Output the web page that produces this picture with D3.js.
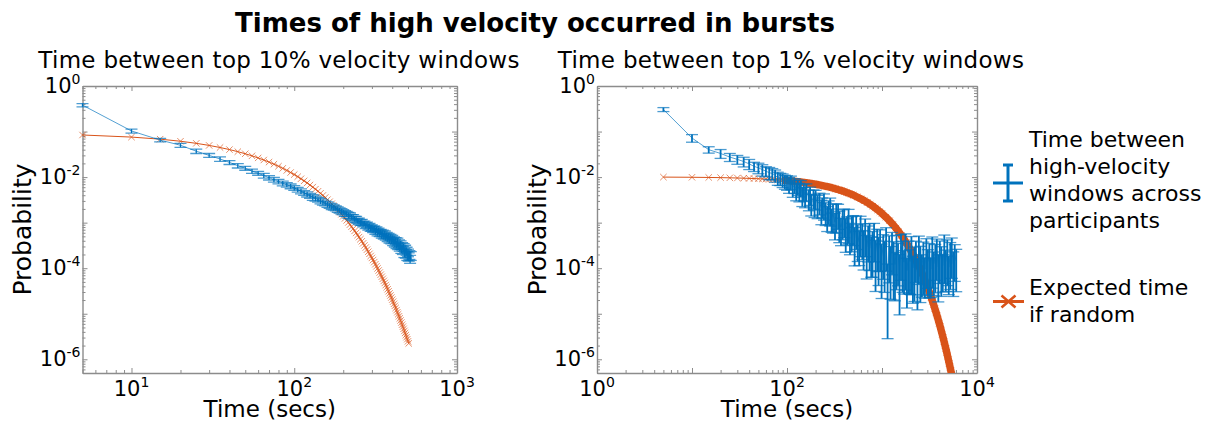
<!DOCTYPE html>
<html>
<head>
<meta charset="utf-8">
<script src="https://cdn.jsdelivr.net/npm/d3@7"></script>
<style>
  body { margin: 0; background: #fff; }
  svg { font-family: "DejaVu Sans", Verdana, sans-serif; }
</style>
</head>
<body>
<svg id="chart" width="1216" height="423"></svg>
<script>
// ---- data: top 10% panel ----
var leftTime = [5,10,15,20,25,30,35,40,45,50,55,60,65,70,75,80,85,90,95,100,
  105,110,115,120,125,130,135,140,145,150,155,160,165,170,175,180,185,190,195,200,
  205,210,215,220,225,230,235,240,245,250,255,260,265,270,275,280,285,290,295,300,
  305,310,315,320,325,330,335,340,345,350,355,360,365,370,375,380,385,390,395,400,
  405,410,415,420,425,430,435,440,445,450,455,460,465,470,475,480,485,490,495,500,
  505,510,515,520];
var leftObserved = [0.38,0.103,0.065,0.050,0.037,0.030,0.025,0.021,0.0178,0.0157,
  0.0135,0.0122,0.0108,0.0097,0.0088,0.0080,0.0073,0.0068,0.0063,0.0058,
  0.0053,0.0049,0.0045,0.0042,0.0039,0.0036,0.0034,0.0032,0.0030,0.0028,
  0.00266,0.00251,0.00237,0.00226,0.00216,0.00207,0.00195,0.00186,0.00178,0.00170,
  0.00160,0.00157,0.00146,0.00143,0.00133,0.00131,0.00121,0.00119,0.00110,0.00109,
  0.00101,0.00103,0.00094,0.00096,0.00087,0.00090,0.00081,0.00084,0.00076,0.00078,
  0.00071,0.00074,0.00066,0.00070,0.00062,0.00066,0.00059,0.00062,0.00055,0.00059,
  0.00051,0.00056,0.00049,0.00053,0.00046,0.00050,0.00043,0.00048,0.00041,0.00045,
  0.00038,0.00042,0.00036,0.00040,0.00033,0.00038,0.00031,0.00035,0.00029,0.00033,
  0.00026,0.00031,0.00025,0.00029,0.00022,0.00027,0.00021,0.00024,0.00019,0.00022,
  0.00018,0.00020,0.00016,0.00019];
var leftObservedErr = [0.08,0.10,0.09,0.10,0.11,0.10,0.11,0.10,0.11,0.10,0.11,0.10,0.12,0.11,0.12,0.11,0.12,0.11,0.12,0.12,
  0.12,0.13,0.12,0.13,0.12,0.14,0.13,0.12,0.14,0.13,0.12,0.14,0.13,0.14,0.13,0.12,0.14,0.13,0.14,0.13,
  0.14,0.13,0.15,0.14,0.13,0.15,0.14,0.15,0.13,0.15,0.14,0.15,0.14,0.13,0.15,0.14,0.15,0.14,0.15,0.15,
  0.15,0.14,0.16,0.15,0.17,0.15,0.16,0.14,0.17,0.16,0.15,0.17,0.16,0.15,0.17,0.16,0.17,0.15,0.17,0.16,
  0.18,0.16,0.19,0.17,0.18,0.20,0.17,0.19,0.18,0.21,0.19,0.18,0.20,0.19,0.22,0.18,0.21,0.20,0.22,0.19,
  0.21,0.22,0.20,0.22];
var leftExpected = [0.084,0.0756,0.06804,0.06124,0.05511,0.0496,0.04464,0.04018,0.03616,0.03254,
  0.02929,0.02636,0.02372,0.02135,0.01922,0.01729,0.01556,0.01401,0.01261,0.01135,
  0.01021,0.00919,0.00827,0.00745,0.0067,0.00603,0.00543,0.00489,0.0044,0.00396,
  0.00356,0.0032,0.00288,0.0026,0.00234,0.0021,0.00189,0.0017,0.00153,0.00138,
  0.00124,0.00112,0.00101,9.05e-4,8.15e-4,7.33e-4,6.6e-4,5.94e-4,5.35e-4,4.81e-4,
  4.33e-4,3.9e-4,3.51e-4,3.16e-4,2.84e-4,2.56e-4,2.3e-4,2.07e-4,1.86e-4,1.68e-4,
  1.51e-4,1.36e-4,1.22e-4,1.1e-4,9.9e-5,8.91e-5,8.02e-5,7.22e-5,6.5e-5,5.85e-5,
  5.26e-5,4.74e-5,4.26e-5,3.84e-5,3.45e-5,3.11e-5,2.8e-5,2.52e-5,2.27e-5,2.04e-5,
  1.84e-5,1.65e-5,1.49e-5,1.34e-5,1.2e-5,1.08e-5,9.76e-6,8.78e-6,7.9e-6,7.11e-6,
  6.4e-6,5.76e-6,5.19e-6,4.67e-6,4.2e-6,3.78e-6,3.4e-6,3.06e-6,2.76e-6,2.48e-6,
  2.23e-6];

// ---- data: top 1% panel ----
var rightTime = [5,10,15,20,25,30,35,40,45,50,55,60,65,70,75,80,85,90,95,
  100,105,110,115,120,125,130,135,140,145,150,155,160,170,175,180,190,195,200,210,
  220,230,235,245,255,265,275,285,295,305,320,330,345,355,370,385,400,415,430,445,
  460,480,495,515,535,555,575,595,620,640,665,690,715,740,770,795,825,855,890,920,
  955,990,1030,1065,1105,1145,1190,1230,1275,1325,1370,1420,1475,1530,1585,1645,1705,1765,1830,1900,
  1970,2040,2115,2195,2275,2360,2445,2535,2630,2725,2825,2930,3040,3150,3265,3385,3510,3640,3775,3915,
  4060,4210,4365,4525,4690,4865,5045,5230,5425,5625,5830,6045];
var rightObserved = [0.305,0.072,0.040,0.033,0.0275,0.0245,0.022,0.0195,0.0172,0.016,
  0.0146,0.0135,0.0125,0.012,0.011,0.0097,0.0093,0.0088,0.0082,
  7.9e-3,7.1e-3,7.9e-3,6.0e-3,6.8e-3,5.2e-3,6.3e-3,5.1e-3,6.0e-3,4.1e-3,
  5.0e-3,4.0e-3,5.0e-3,3.5e-3,4.2e-3,2.8e-3,3.6e-3,2.7e-3,3.5e-3,2.6e-3,
  2.95e-3,2.0e-3,2.37e-3,2.7e-3,1.8e-3,1.45e-3,1.95e-3,2.15e-3,1.3e-3,1.55e-3,
  1.02e-3,1.6e-3,1.62e-3,1.07e-3,7.8e-4,1.17e-3,1.23e-3,7.2e-4,8.3e-4,1.15e-3,
  5.8e-4,7.9e-4,8.7e-4,4.5e-4,8.3e-4,5.2e-4,3.8e-4,7.8e-4,5.5e-4,3.8e-4,
  6.9e-4,2.9e-4,4.9e-4,5.2e-4,2.75e-4,3.5e-4,5.5e-4,2.2e-4,4.0e-4,2.6e-4,
  3.9e-4,1.8e-4,3.0e-4,2.1e-4,4.3e-4,6.3e-5,2.8e-4,1.6e-4,3.4e-4,2.0e-4,
  1.2e-4,2.8e-4,1.95e-4,1.05e-4,3.0e-4,2.1e-4,1.35e-4,3.0e-4,8.9e-5,2.1e-4,
  1.4e-4,2.6e-4,1.0e-4,1.55e-4,2.2e-4,8.7e-5,2.75e-4,1.6e-4,1.1e-4,2.0e-4,
  9.5e-5,2.4e-4,1.4e-4,1.85e-4,9.5e-5,2.6e-4,1.26e-4,1.8e-4,2.45e-4,1.07e-4,
  2.2e-4,1.6e-4,1.15e-4,2.9e-4,1.4e-4,2.3e-4,1.05e-4,2.0e-4,2.6e-4,1.26e-4,
  1.9e-4,1.45e-4];
var rightObservedErr = [0.10,0.19,0.16,0.22,0.20,0.22,0.24,0.25,0.23,0.26,0.28,0.25,0.30,0.28,0.30,0.32,0.30,0.33,0.34,
  0.35,0.38,0.33,0.40,0.36,0.42,0.37,0.44,0.39,0.45,
  0.40,0.47,0.42,0.48,0.43,0.50,0.45,0.52,0.46,0.53,
  0.50,0.55,0.47,0.58,0.52,0.56,0.54,0.61,0.53,0.62,
  0.59,0.63,0.56,0.66,0.60,0.64,0.62,0.69,0.61,0.70,
  0.66,0.71,0.64,0.75,0.69,0.73,0.70,0.77,0.72,0.76,
  0.74,0.80,0.72,0.83,0.77,0.82,0.75,0.86,0.79,0.84,
  0.78,0.88,0.81,0.86,0.80,0.955,0.83,0.87,0.79,0.90,
  0.84,0.88,0.79,0.91,0.82,0.86,0.80,0.89,0.85,0.87,
  0.81,0.90,0.83,0.88,0.78,0.86,0.84,0.89,0.79,0.87,
  0.77,0.85,0.82,0.88,0.76,0.86,0.80,0.84,0.78,0.83,
  0.79,0.85,0.74,0.84,0.78,0.82,0.75,0.83,0.77,0.81,
  0.73,0.79];
var rightExpectedTime = [5,10,15,20,25,30,35,40,45,50,55,60,65,70,75,80,85,90,95,100,
  110,120,130,140,150,160,170,180,190,200,
  225,250,275,300,325,350,375,400,425,450,475,500,
  550,600,650,700,750,800,850,900,950,1000,
  1100,1200,1300,1400,1500,1600,1700,1800,1900,2000,2100,2200,2300,2400,2500,2600,2700,2800,2900,3000,
  3100,3200,3300,3400,3500,3600,3700,3800,3900,4000,4100,4200,4300,4400,4500,4600,4700,4800,4900,5000,
  5100,5200,5300,5400,5500,5600];
var rightExpected = [0.0100,0.00991,0.00982,0.00973,0.00964,0.00955,0.00946,0.00937,0.00929,0.00920,
  0.00912,0.00903,0.00895,0.00887,0.00879,0.00871,0.00863,0.00855,0.00847,0.00839,
  0.00824,0.00809,0.00794,0.00779,0.00765,0.00751,0.00737,0.00724,0.00710,0.00697,
  0.00666,0.00636,0.00607,0.00579,0.00553,0.00528,0.00504,0.00482,0.00460,0.00439,0.00420,0.00401,
  0.00365,0.00333,0.00304,0.00277,0.00252,0.00230,0.00210,0.00191,0.00174,0.00159,
  1.32e-3,1.10e-3,9.13e-4,7.59e-4,6.31e-4,5.25e-4,4.36e-4,3.62e-4,3.01e-4,2.50e-4,
  2.08e-4,1.73e-4,1.44e-4,1.20e-4,9.94e-5,8.26e-5,6.87e-5,5.71e-5,4.75e-5,3.95e-5,
  3.28e-5,2.73e-5,2.27e-5,1.88e-5,1.57e-5,1.30e-5,1.08e-5,8.99e-6,7.48e-6,6.22e-6,
  5.17e-6,4.30e-6,3.57e-6,2.97e-6,2.47e-6,2.05e-6,1.71e-6,1.42e-6,1.18e-6,9.79e-7,
  8.14e-7,6.77e-7,5.63e-7,4.68e-7,3.89e-7,3.23e-7];

// axis ranges and labelled ticks
var probRange = [5e-7, 1];
var probTicks = [1e-6, 1e-4, 1e-2, 1];
var leftTimeRange = [5, 1000];
var leftTimeTicks = [10, 100, 1000];
var rightTimeRange = [1, 10000];
var rightTimeTicks = [1, 100, 10000];

var legendObserved = ["Time between", "high-velocity", "windows across", "participants"];
var legendExpected = ["Expected time", "if random"];

var blue = "#0072BD";
var orange = "#D95319";
var axisColor = "#8c8c8c";

var svg = d3.select("#chart");

// log ticks: decades and the 2..9 in between
function logTicks(lo, hi, major) {
    var out = [];
    for (var e = Math.floor(Math.log10(lo)); e <= Math.ceil(Math.log10(hi)); e++) {
        for (var m = 1; m < 10; m++) {
            if ((m == 1) != major) continue;
            var v = m * Math.pow(10, e);
            if (v >= lo * 0.999 && v <= hi * 1.001) out.push(v);
        }
    }
    return out;
}

function addAxis(g, axisFn, scale, values, size, transform, withDomain) {
    var a = g.append("g")
        .attr("transform", transform)
        .call(axisFn(scale).tickValues(values).tickSize(size).tickSizeOuter(0).tickFormat(""));
    a.selectAll(".tick line").attr("stroke", axisColor).attr("stroke-width", 1);
    if (withDomain) {
        a.select(".domain").attr("stroke", axisColor).attr("stroke-width", 1.4);
    } else {
        a.select(".domain").remove();
    }
}

function powerText(sel, size, supSize, supDy) {
    sel.each(function(d) {
        var t = d3.select(this);
        t.append("tspan").attr("font-size", size).text("10");
        t.append("tspan").attr("font-size", supSize).attr("dy", supDy)
            .text(String(Math.round(Math.log10(d))));
    });
}

function drawPanel(p) {
    var x = d3.scaleLog().domain(p.xRange).range([p.left, p.right]);
    var y = d3.scaleLog().domain(probRange).range([p.bottom, p.top]);
    var g = svg.append("g");

    // box with inward ticks on all four sides
    var xMaj = logTicks(p.xRange[0], p.xRange[1], true), xMin = logTicks(p.xRange[0], p.xRange[1], false);
    var yMaj = logTicks(probRange[0], probRange[1], true), yMin = logTicks(probRange[0], probRange[1], false);
    addAxis(g, d3.axisBottom, x, xMaj, -5, "translate(0," + p.bottom + ")", true);
    addAxis(g, d3.axisBottom, x, xMin, -3, "translate(0," + p.bottom + ")", false);
    addAxis(g, d3.axisTop, x, xMaj, -5, "translate(0," + p.top + ")", true);
    addAxis(g, d3.axisTop, x, xMin, -3, "translate(0," + p.top + ")", false);
    addAxis(g, d3.axisLeft, y, yMaj, -5, "translate(" + p.left + ",0)", true);
    addAxis(g, d3.axisLeft, y, yMin, -3, "translate(" + p.left + ",0)", false);
    addAxis(g, d3.axisRight, y, yMaj, -5, "translate(" + p.right + ",0)", true);
    addAxis(g, d3.axisRight, y, yMin, -3, "translate(" + p.right + ",0)", false);

    // tick labels
    g.selectAll(null).data(p.xTicks).join("text")
        .attr("x", function(d) { return x(d); })
        .attr("y", p.bottom + 23)
        .attr("text-anchor", "middle")
        .attr("fill", "#000")
        .call(powerText, 21, 14, -9);
    g.selectAll(null).data(probTicks).join("text")
        .attr("x", p.left - 2)
        .attr("y", function(d) { return y(d) + 7; })
        .attr("text-anchor", "end")
        .attr("fill", "#000")
        .call(powerText, 21, 14, -9);

    // axis labels and panel title
    g.append("text")
        .attr("x", (p.left + p.right) / 2).attr("y", 417)
        .attr("text-anchor", "middle").attr("font-size", 23)
        .text("Time (secs)");
    g.append("text")
        .attr("transform", "translate(" + p.ylabelX + "," + ((p.top + p.bottom) / 2) + ") rotate(-90)")
        .attr("text-anchor", "middle").attr("font-size", 25)
        .text("Probability");
    g.append("text")
        .attr("x", p.titleX).attr("y", 68)
        .attr("text-anchor", "middle").attr("font-size", 23).attr("letter-spacing", 0.3)
        .text(p.title);

    // data area, clipped at the bottom like the original
    var clipId = "clip" + p.id;
    svg.append("clipPath").attr("id", clipId).append("rect")
        .attr("x", p.left - 20).attr("y", p.top - 20)
        .attr("width", p.right - p.left + 40).attr("height", p.bottom - p.top + 20);
    var data = g.append("g").attr("clip-path", "url(#" + clipId + ")");

    // expected (random) series
    var exp = p.expTime.map(function(t, i) { return {t: t, v: p.expVal[i]}; });
    var line = d3.line().x(function(d) { return x(d.t); }).y(function(d) { return y(d.v); });
    if (p.bandFrom) {
        data.append("path")
            .datum(exp.filter(function(d) { return d.t >= p.bandFrom; }))
            .attr("d", line)
            .attr("fill", "none").attr("stroke", orange)
            .attr("stroke-width", 7.5).attr("stroke-linejoin", "round");
    }
    data.append("path").datum(exp).attr("d", line)
        .attr("fill", "none").attr("stroke", orange).attr("stroke-width", 1);
    data.selectAll(null).data(exp).join("path")
        .attr("transform", function(d) { return "translate(" + x(d.t) + "," + y(d.v) + ")"; })
        .attr("d", "M-3.2,-3.2L3.2,3.2M-3.2,3.2L3.2,-3.2")
        .attr("stroke", orange).attr("stroke-width", 1).attr("stroke-opacity", 0.65);

    // observed series with error bars
    var obs = p.obsTime.map(function(t, i) {
        return {t: t, v: p.obsVal[i], e: p.obsVal[i] * p.obsErr[i]};
    });
    data.append("path").datum(obs).attr("d", line)
        .attr("fill", "none").attr("stroke", blue).attr("stroke-width", 0.8).attr("stroke-opacity", 0.85);
    data.selectAll(null).data(obs).join("line")
        .attr("x1", function(d) { return x(d.t); }).attr("x2", function(d) { return x(d.t); })
        .attr("y1", function(d) { return y(d.v + d.e); })
        .attr("y2", function(d) { return y(Math.max(d.v - d.e, 1e-9)); })
        .attr("stroke", blue).attr("stroke-width", p.barWidth);
    [1, -1].forEach(function(s) {
        data.selectAll(null).data(obs).join("line")
            .attr("x1", function(d) { return x(d.t) - 6; }).attr("x2", function(d) { return x(d.t) + 6; })
            .attr("y1", function(d) { return y(Math.max(d.v + s * d.e, 1e-9)); })
            .attr("y2", function(d) { return y(Math.max(d.v + s * d.e, 1e-9)); })
            .attr("stroke", blue).attr("stroke-width", 1.3).attr("stroke-opacity", 0.7);
    });
}

// main title
svg.append("text")
    .attr("x", 535).attr("y", 32)
    .attr("text-anchor", "middle")
    .attr("font-size", 26).attr("font-weight", "bold")
    .text("Times of high velocity occurred in bursts");

drawPanel({
    id: "L", left: 82.5, right: 457, top: 86, bottom: 373, ylabelX: 31, titleX: 279, barWidth: 1.3,
    xRange: leftTimeRange, xTicks: leftTimeTicks,
    title: "Time between top 10% velocity windows",
    obsTime: leftTime, obsVal: leftObserved, obsErr: leftObservedErr,
    expTime: leftTime.slice(0, leftExpected.length), expVal: leftExpected
});

drawPanel({
    id: "R", left: 597, right: 977, top: 86, bottom: 373, ylabelX: 546, titleX: 791, barWidth: 1.8,
    xRange: rightTimeRange, xTicks: rightTimeTicks,
    title: "Time between top 1% velocity windows",
    obsTime: rightTime, obsVal: rightObserved, obsErr: rightObservedErr,
    expTime: rightExpectedTime, expVal: rightExpected, bandFrom: 90
});

// legend
var leg = svg.append("g");
leg.append("line").attr("x1", 993).attr("x2", 1023).attr("y1", 183).attr("y2", 183)
    .attr("stroke", blue).attr("stroke-width", 3);
leg.append("line").attr("x1", 1008).attr("x2", 1008).attr("y1", 165).attr("y2", 201)
    .attr("stroke", blue).attr("stroke-width", 3);
[165, 201].forEach(function(cy) {
    leg.append("line").attr("x1", 1003).attr("x2", 1013).attr("y1", cy).attr("y2", cy)
        .attr("stroke", blue).attr("stroke-width", 3);
});
leg.append("line").attr("x1", 993).attr("x2", 1024).attr("y1", 301.5).attr("y2", 301.5)
    .attr("stroke", orange).attr("stroke-width", 3);
leg.append("path").attr("transform", "translate(1008.5,301.5)")
    .attr("d", "M-7,-6L7,6M-7,6L7,-6")
    .attr("stroke", orange).attr("stroke-width", 2.5);
leg.selectAll(null).data(legendObserved).join("text")
    .attr("x", 1029).attr("y", function(d, i) { return 147 + i * 27; })
    .attr("font-size", 22).text(function(d) { return d; });
leg.selectAll(null).data(legendExpected).join("text")
    .attr("x", 1029).attr("y", function(d, i) { return 295 + i * 27; })
    .attr("font-size", 22).text(function(d) { return d; });
</script>
</body>
</html>
